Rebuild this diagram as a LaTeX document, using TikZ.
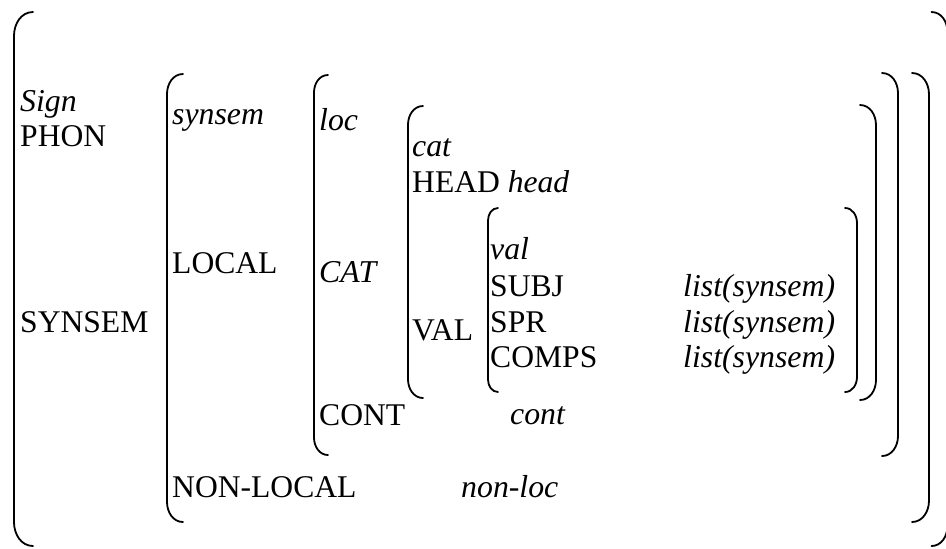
\documentclass[tikz,border=0pt]{standalone}
\usepackage{fontspec}
\setmainfont{Liberation Serif}
% Left and right bracket of an attribute-value matrix:
% #1 = x of the vertical stroke, #2 = top, #3 = bottom, #4 = corner radius
\newcommand\avmL[4]{\draw[brk] (#1+#4,#2) to[out=180,in=90] (#1,#2+1.25*#4) -- (#1,#3-1.25*#4) to[out=-90,in=180] (#1+#4,#3);}
\newcommand\avmR[4]{\draw[brk] (#1-#4,#2) to[out=0,in=90] (#1,#2+1.25*#4) -- (#1,#3-1.25*#4) to[out=-90,in=0] (#1-#4,#3);}
\begin{document}
\begin{tikzpicture}[x=1pt,y=-1pt,
  brk/.style={line width=1.8pt, line cap=round},
  lbl/.style={anchor=base west, inner sep=0pt, font=\fontsize{31.6}{36}\selectfont},
  typ/.style={anchor=base west, inner sep=0pt, font=\fontsize{31.8}{36}\selectfont\itshape}]
\useasboundingbox (0,0) rectangle (946,549);

% brackets, outermost first
\avmL{14}{12}{546}{19}
\avmR{947.5}{12}{546}{16}
\avmL{167}{74}{522}{16}
\avmR{929}{73}{522}{17}
\avmL{314}{75}{455}{14}
\avmR{898}{73}{456}{16}
\avmL{408}{106}{398}{15}
\avmR{876}{105}{400}{16}
\avmL{488}{208}{392}{10}
\avmR{857}{208}{392}{12}

% sign
\node[typ] (sign) at (20,111) {Sign};
\node[lbl] (phon) at (20,146) {PHON};
\node[lbl] (synsemf) at (20,332) {SYNSEM};

% synsem
\node[typ] (synsemt) at (172,124) {synsem};
\node[lbl] (local) at (172,273) {LOCAL};
\node[lbl] (nonlocal) at (172,497) {NON-LOCAL};
\node[typ] (nonloc) at (461,497) {non-loc};

% loc
\node[typ] (loc) at (319,130) {loc};
\node[typ] (catf) at (319,282) {CAT};
\node[lbl] (contf) at (319,425) {CONT};
\node[typ] (cont) at (510,424) {cont};

% cat
\node[typ] (cat) at (412,156) {cat};
\node[lbl] (head) at (412,192) {HEAD \textit{head}};
\node[lbl] (valf) at (412,340) {VAL};

% val
\node[typ] (val) at (490,259) {val};
\node[lbl] (subj) at (490,296) {SUBJ};
\node[lbl] (spr) at (490,332) {SPR};
\node[lbl] (comps) at (490,367) {COMPS};
\node[typ] (subjv) at (683,296) {list(synsem)};
\node[typ] (sprv) at (683,332) {list(synsem)};
\node[typ] (compsv) at (683,367) {list(synsem)};
\end{tikzpicture}
\end{document}
